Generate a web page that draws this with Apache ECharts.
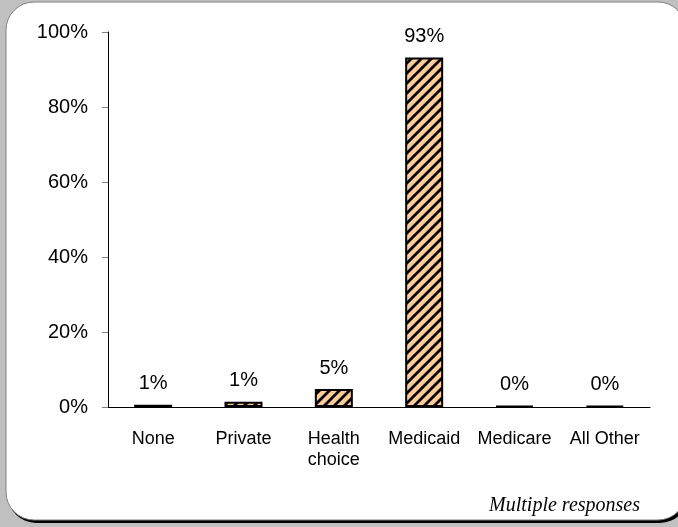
<!DOCTYPE html>
<html>
<head>
<meta charset="utf-8">
<script src="https://cdn.jsdelivr.net/npm/echarts@6/dist/echarts.min.js"></script>
<style>
html,body{margin:0;padding:0;background:#c0c0c0;}
#chart{width:678px;height:527px;}
</style>
</head>
<body>
<div id="chart"></div>
<script>
const categories = ['None', 'Private', 'Health\nchoice', 'Medicaid', 'Medicare', 'All Other'];
const values = [0.6, 1.4, 4.8, 93.2, 0.3, 0.3];
const yTicks = [0, 20, 40, 60, 80, 100];
const note = 'Multiple responses';

function hatch() {
  const c = document.createElement('canvas');
  c.width = 10; c.height = 10;
  const g = c.getContext('2d');
  g.fillStyle = '#ffcc99';
  g.fillRect(0, 0, 10, 10);
  g.strokeStyle = '#000';
  g.lineWidth = 2.8;
  g.beginPath();
  g.moveTo(-2, 12); g.lineTo(12, -2);
  g.moveTo(-12, 12); g.lineTo(2, -2);
  g.moveTo(8, 12); g.lineTo(22, -2);
  g.stroke();
  return c;
}

const font = '"Liberation Sans", Arial, sans-serif';
const chart = echarts.init(document.getElementById('chart'), null, {renderer: 'canvas'});
chart.setOption({
  backgroundColor: '#c0c0c0',
  animation: false,
  graphic: [
    {type: 'rect', z: -10, shape: {x: 8, y: 4, width: 680, height: 519, r: 28}, style: {fill: '#000'}},
    {type: 'rect', z: -9, shape: {x: 6, y: 2, width: 680, height: 518, r: 28}, style: {fill: '#fff', stroke: '#808080', lineWidth: 1}},
    {type: 'text', right: 38, top: 496, style: {text: note, font: 'italic 20px "Liberation Serif", "DejaVu Serif", serif', fill: '#000'}}
  ],
  grid: {left: 108, right: 28, top: 32, bottom: 120},
  xAxis: {
    type: 'category',
    data: categories,
    axisLine: {lineStyle: {color: '#000', width: 1}},
    axisTick: {lineStyle: {color: '#808080'}, length: 6},
    axisLabel: {color: '#000', fontFamily: font, fontSize: 18, margin: 22, lineHeight: 21, interval: 0}
  },
  yAxis: {
    type: 'value',
    min: 0, max: 100, interval: 20,
    axisLine: {show: true, lineStyle: {color: '#000', width: 1}},
    axisTick: {show: true, lineStyle: {color: '#808080'}, length: 6},
    splitLine: {show: false},
    axisLabel: {color: '#000', fontFamily: font, fontSize: 20, margin: 20, formatter: v => v + '%'}
  },
  series: [{
    type: 'bar',
    data: values,
    barWidth: 38,
    itemStyle: {color: {image: hatch(), repeat: 'repeat'}, borderColor: '#000', borderWidth: 2},
    label: {
      show: true, position: 'top', distance: 11,
      color: '#000', fontFamily: font, fontSize: 20,
      formatter: p => Math.round(p.value) + '%'
    }
  }]
});
</script>
</body>
</html>
